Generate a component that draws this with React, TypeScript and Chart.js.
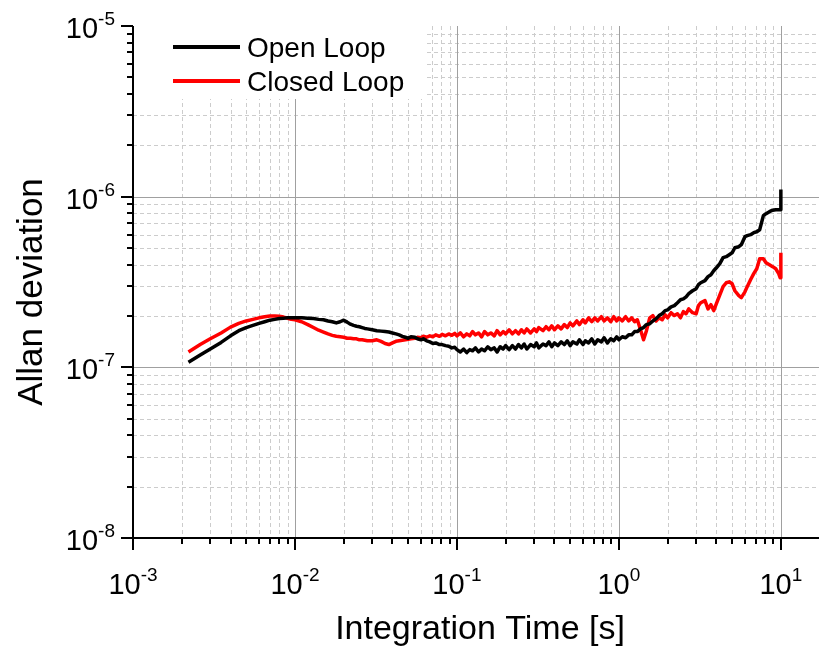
import React, { useEffect, useRef } from 'react';
import { Chart, registerables } from 'chart.js';

Chart.register(...registerables);

// Integration time tau [s]
const tau = [
  0.0022, 0.0026, 0.003, 0.0035, 0.004, 0.0045, 0.005, 0.0055, 0.006, 0.0065, 0.007, 0.0075, 0.008, 0.0085, 0.009, 0.0095,
  0.01, 0.011, 0.012, 0.013, 0.014, 0.015, 0.016, 0.017, 0.018, 0.019, 0.02, 0.021, 0.022, 0.023, 0.024, 0.025, 0.026, 0.027, 0.028,
  0.03, 0.032, 0.034, 0.036, 0.038, 0.04, 0.042, 0.044, 0.046, 0.048,
  0.05, 0.052, 0.055, 0.057, 0.06, 0.062, 0.065, 0.068, 0.071, 0.074, 0.078, 0.081, 0.085, 0.089, 0.093, 0.097,
  0.1, 0.105, 0.11, 0.115, 0.12, 0.125, 0.13, 0.136, 0.142, 0.148, 0.155, 0.162, 0.17, 0.177, 0.185, 0.193,
  0.2, 0.21, 0.22, 0.23, 0.24, 0.25, 0.26, 0.27, 0.285, 0.3, 0.31, 0.32, 0.34, 0.355, 0.37, 0.385,
  0.4, 0.42, 0.44, 0.46, 0.48, 0.5, 0.52, 0.55, 0.57, 0.6, 0.62, 0.65, 0.68, 0.71, 0.74, 0.78, 0.81, 0.85, 0.89, 0.93, 0.97,
  1, 1.05, 1.1, 1.15, 1.2, 1.25, 1.3, 1.36, 1.42, 1.48, 1.55, 1.62, 1.7, 1.77, 1.85, 1.93,
  2, 2.1, 2.2, 2.3, 2.4, 2.5, 2.6, 2.7, 2.85, 3, 3.1, 3.2, 3.4, 3.55, 3.7, 3.85,
  4, 4.2, 4.4, 4.6, 4.8, 5, 5.2, 5.5, 5.7, 6, 6.2, 6.5, 6.8, 7.1, 7.4, 7.8, 8.1, 8.5, 8.9, 9.3, 9.7, 9.9, 10,
];

// Allan deviation, open loop
const openLoop = [
  1.07e-7, 1.18e-7, 1.28e-7, 1.40e-7, 1.53e-7, 1.64e-7, 1.71e-7, 1.76e-7, 1.81e-7, 1.85e-7, 1.89e-7, 1.91e-7, 1.93e-7, 1.94e-7, 1.95e-7, 1.95e-7,
  1.95e-7, 1.95e-7, 1.94e-7, 1.93e-7, 1.91e-7, 1.90e-7, 1.87e-7, 1.85e-7, 1.82e-7, 1.85e-7, 1.89e-7, 1.84e-7, 1.79e-7, 1.76e-7, 1.74e-7, 1.73e-7, 1.71e-7, 1.69e-7, 1.68e-7,
  1.66e-7, 1.64e-7, 1.63e-7, 1.62e-7, 1.61e-7, 1.59e-7, 1.57e-7, 1.55e-7, 1.52e-7, 1.50e-7,
  1.48e-7, 1.51e-7, 1.50e-7, 1.47e-7, 1.45e-7, 1.47e-7, 1.43e-7, 1.41e-7, 1.38e-7, 1.39e-7, 1.36e-7, 1.36e-7, 1.34e-7, 1.33e-7, 1.30e-7, 1.31e-7,
  1.27e-7, 1.23e-7, 1.28e-7, 1.22e-7, 1.27e-7, 1.25e-7, 1.30e-7, 1.23e-7, 1.28e-7, 1.25e-7, 1.32e-7, 1.27e-7, 1.30e-7, 1.23e-7, 1.32e-7, 1.28e-7,
  1.34e-7, 1.27e-7, 1.34e-7, 1.28e-7, 1.36e-7, 1.30e-7, 1.37e-7, 1.28e-7, 1.36e-7, 1.32e-7, 1.39e-7, 1.30e-7, 1.37e-7, 1.34e-7, 1.41e-7, 1.32e-7,
  1.39e-7, 1.34e-7, 1.41e-7, 1.36e-7, 1.43e-7, 1.34e-7, 1.41e-7, 1.37e-7, 1.45e-7, 1.36e-7, 1.43e-7, 1.39e-7, 1.47e-7, 1.37e-7, 1.45e-7, 1.41e-7, 1.49e-7, 1.39e-7, 1.47e-7, 1.43e-7, 1.51e-7,
  1.45e-7, 1.51e-7, 1.49e-7, 1.55e-7, 1.55e-7, 1.62e-7, 1.62e-7, 1.68e-7, 1.71e-7, 1.78e-7, 1.80e-7, 1.87e-7, 1.93e-7, 2.01e-7, 2.06e-7, 2.15e-7,
  2.17e-7, 2.26e-7, 2.30e-7, 2.39e-7, 2.49e-7, 2.52e-7, 2.59e-7, 2.70e-7, 2.81e-7, 2.89e-7, 3.05e-7, 3.13e-7, 3.22e-7, 3.40e-7, 3.49e-7, 3.68e-7,
  3.83e-7, 4.05e-7, 4.39e-7, 4.45e-7, 4.57e-7, 4.69e-7, 5.02e-7, 5.09e-7, 5.23e-7, 5.83e-7, 5.91e-7, 5.99e-7, 6.15e-7, 6.23e-7, 6.40e-7, 7.74e-7, 7.95e-7, 8.17e-7, 8.33e-7, 8.39e-7, 8.39e-7, 8.39e-7, 1.10e-6,
];

// Allan deviation, closed loop
const closedLoop = [
  1.23e-7, 1.36e-7, 1.47e-7, 1.59e-7, 1.72e-7, 1.81e-7, 1.87e-7, 1.91e-7, 1.95e-7, 1.98e-7, 2.00e-7, 2.00e-7, 1.99e-7, 1.97e-7, 1.94e-7, 1.91e-7,
  1.90e-7, 1.85e-7, 1.78e-7, 1.71e-7, 1.65e-7, 1.61e-7, 1.57e-7, 1.54e-7, 1.52e-7, 1.51e-7, 1.50e-7, 1.48e-7, 1.48e-7, 1.47e-7, 1.47e-7, 1.45e-7, 1.45e-7, 1.44e-7, 1.43e-7,
  1.43e-7, 1.45e-7, 1.42e-7, 1.38e-7, 1.36e-7, 1.39e-7, 1.42e-7, 1.43e-7, 1.44e-7, 1.45e-7,
  1.46e-7, 1.47e-7, 1.48e-7, 1.50e-7, 1.49e-7, 1.52e-7, 1.50e-7, 1.53e-7, 1.51e-7, 1.55e-7, 1.52e-7, 1.56e-7, 1.53e-7, 1.57e-7, 1.54e-7, 1.58e-7,
  1.53e-7, 1.59e-7, 1.51e-7, 1.57e-7, 1.53e-7, 1.62e-7, 1.55e-7, 1.59e-7, 1.51e-7, 1.62e-7, 1.55e-7, 1.59e-7, 1.53e-7, 1.64e-7, 1.55e-7, 1.62e-7,
  1.57e-7, 1.66e-7, 1.57e-7, 1.64e-7, 1.57e-7, 1.66e-7, 1.59e-7, 1.68e-7, 1.59e-7, 1.68e-7, 1.62e-7, 1.71e-7, 1.64e-7, 1.73e-7, 1.66e-7, 1.75e-7,
  1.66e-7, 1.75e-7, 1.68e-7, 1.78e-7, 1.71e-7, 1.82e-7, 1.75e-7, 1.87e-7, 1.78e-7, 1.90e-7, 1.82e-7, 1.95e-7, 1.85e-7, 1.95e-7, 1.87e-7, 1.98e-7, 1.87e-7, 1.95e-7, 1.85e-7, 1.98e-7, 1.87e-7,
  1.95e-7, 1.87e-7, 1.98e-7, 1.87e-7, 1.95e-7, 1.85e-7, 1.90e-7, 1.66e-7, 1.45e-7, 1.64e-7, 1.95e-7, 2.01e-7, 1.87e-7, 1.95e-7, 1.90e-7, 2.03e-7,
  1.95e-7, 2.09e-7, 2.01e-7, 2.06e-7, 1.95e-7, 2.12e-7, 2.06e-7, 2.20e-7, 2.09e-7, 2.06e-7, 2.30e-7, 2.39e-7, 2.46e-7, 2.20e-7, 2.33e-7, 2.15e-7,
  2.36e-7, 2.66e-7, 2.97e-7, 3.13e-7, 3.17e-7, 3.09e-7, 2.81e-7, 2.63e-7, 2.56e-7, 2.77e-7, 2.97e-7, 3.26e-7, 3.54e-7, 3.78e-7, 4.33e-7, 4.33e-7, 4.10e-7, 3.99e-7, 3.89e-7, 3.78e-7, 3.54e-7, 3.35e-7, 4.69e-7,
];

const seriesLabels = ['Open Loop', 'Closed Loop'];
const seriesColors = ['#000000', '#ff0000'];
const xTickExponents = [-3, -2, -1, 0, 1];
const yTickExponents = [-8, -7, -6, -5];
const xTitle = 'Integration Time [s]';
const yTitle = 'Allan deviation';
const X_MIN = 1e-3;
const X_MAX = 17.2;
const Y_MIN = 1e-8;
const Y_MAX = 1e-5;

const FONT = '"Liberation Sans", Arial, sans-serif';

function drawPower(ctx: CanvasRenderingContext2D, exp: number, x: number, baseline: number, align: 'center' | 'right') {
  const base = '10';
  const sup = String(exp);
  ctx.font = `29px ${FONT}`;
  const wb = ctx.measureText(base).width;
  ctx.font = `19px ${FONT}`;
  const ws = ctx.measureText(sup).width;
  const total = wb + ws;
  const start = align === 'center' ? x - total / 2 : x - total;
  ctx.textAlign = 'left';
  ctx.textBaseline = 'alphabetic';
  ctx.fillStyle = '#000';
  ctx.font = `29px ${FONT}`;
  ctx.fillText(base, start, baseline);
  ctx.font = `19px ${FONT}`;
  ctx.fillText(sup, start + wb, baseline - 13);
}

const originPlugin = {
  id: 'originStyle',
  beforeDatasetsDraw(chart: any) {
    const { ctx, chartArea: a, scales } = chart;
    const x = scales.x;
    const y = scales.y;
    ctx.save();
    ctx.lineWidth = 1;
    // minor grid
    ctx.strokeStyle = '#cccccc';
    ctx.setLineDash([4, 3]);
    ctx.beginPath();
    for (let n = -3; n <= 1; n++) {
      for (let k = 2; k <= 9; k++) {
        const v = k * Math.pow(10, n);
        if (v > X_MAX) continue;
        const px = Math.round(x.getPixelForValue(v)) + 0.5;
        ctx.moveTo(px, a.top);
        ctx.lineTo(px, a.bottom);
      }
    }
    for (let n = -8; n <= -6; n++) {
      for (let k = 2; k <= 9; k++) {
        const v = k * Math.pow(10, n);
        const py = Math.round(y.getPixelForValue(v)) + 0.5;
        ctx.moveTo(a.left, py);
        ctx.lineTo(a.right, py);
      }
    }
    ctx.stroke();
    // major grid
    ctx.setLineDash([]);
    ctx.strokeStyle = '#a0a0a0';
    ctx.beginPath();
    for (const n of [-2, -1, 0, 1]) {
      const px = Math.round(x.getPixelForValue(Math.pow(10, n))) + 0.5;
      ctx.moveTo(px, a.top);
      ctx.lineTo(px, a.bottom);
    }
    for (const n of [-7, -6]) {
      const py = Math.round(y.getPixelForValue(Math.pow(10, n))) + 0.5;
      ctx.moveTo(a.left, py);
      ctx.lineTo(a.right, py);
    }
    ctx.stroke();
    // legend background
    ctx.fillStyle = '#ffffff';
    ctx.fillRect(a.left + 1, a.top - 1, 293, 74);
    ctx.restore();
  },
  afterDraw(chart: any) {
    const { ctx, chartArea: a, scales } = chart;
    const x = scales.x;
    const y = scales.y;
    ctx.save();
    ctx.setLineDash([]);
    ctx.strokeStyle = '#000';
    ctx.lineWidth = 2;
    ctx.beginPath();
    ctx.moveTo(a.left, a.top);
    ctx.lineTo(a.left, a.bottom + 1);
    ctx.moveTo(a.left - 1, a.bottom);
    ctx.lineTo(a.right, a.bottom);
    // x ticks
    for (let n = -3; n <= 1; n++) {
      for (let k = 1; k <= 9; k++) {
        const v = k * Math.pow(10, n);
        if (v > X_MAX) continue;
        const px = Math.round(x.getPixelForValue(v));
        const len = k === 1 ? 12 : 6;
        ctx.moveTo(px, a.bottom);
        ctx.lineTo(px, a.bottom + len);
      }
    }
    // y ticks
    for (let n = -8; n <= -5; n++) {
      for (let k = 1; k <= 9; k++) {
        const v = k * Math.pow(10, n);
        if (v > Y_MAX * 1.0001) continue;
        const py = Math.round(y.getPixelForValue(v));
        const len = k === 1 ? 12 : 6;
        ctx.moveTo(a.left - len, py);
        ctx.lineTo(a.left, py);
      }
    }
    ctx.stroke();

    // tick labels
    for (const e of xTickExponents) {
      const px = x.getPixelForValue(Math.pow(10, e));
      drawPower(ctx, e, px, a.bottom + 56, 'center');
    }
    for (const e of yTickExponents) {
      const py = y.getPixelForValue(Math.pow(10, e));
      drawPower(ctx, e, a.left - 18, py + 12, 'right');
    }

    // axis titles
    ctx.fillStyle = '#000';
    ctx.font = `34px ${FONT}`;
    ctx.textAlign = 'center';
    ctx.textBaseline = 'alphabetic';
    ctx.fillText(xTitle, 480, a.bottom + 101);
    ctx.save();
    ctx.translate(42, 292);
    ctx.rotate(-Math.PI / 2);
    ctx.font = `35px ${FONT}`;
    ctx.fillText(yTitle, 0, 0);
    ctx.restore();

    // legend
    ctx.font = `28px ${FONT}`;
    ctx.textAlign = 'left';
    seriesLabels.forEach((lab, i) => {
      const ly = a.top + 21 + i * 34;
      ctx.strokeStyle = seriesColors[i];
      ctx.lineWidth = 4;
      ctx.beginPath();
      ctx.moveTo(a.left + 40, ly);
      ctx.lineTo(a.left + 107, ly);
      ctx.stroke();
      ctx.fillStyle = '#000';
      ctx.fillText(lab, a.left + 114, ly + 10);
    });
    ctx.restore();
  },
};

export default function App() {
  const ref = useRef<HTMLCanvasElement>(null);
  useEffect(() => {
    if (!ref.current) return;
    const chart = new Chart(ref.current, {
      type: 'line',
      data: {
        datasets: [
          {
            label: seriesLabels[0],
            data: tau.map((t, i) => ({ x: t, y: openLoop[i] })),
            borderColor: seriesColors[0],
            borderWidth: 3.5,
            borderJoinStyle: 'round',
            pointRadius: 0,
            fill: false,
            tension: 0,
          },
          {
            label: seriesLabels[1],
            data: tau.map((t, i) => ({ x: t, y: closedLoop[i] })),
            borderColor: seriesColors[1],
            borderWidth: 3.5,
            borderJoinStyle: 'round',
            pointRadius: 0,
            fill: false,
            tension: 0,
          },
        ],
      },
      options: {
        responsive: false,
        animation: false,
        devicePixelRatio: 1,
        events: [],
        layout: { padding: { left: 133, right: 0, top: 26, bottom: 108 } },
        plugins: { legend: { display: false }, tooltip: { enabled: false } },
        scales: {
          x: { type: 'logarithmic', min: X_MIN, max: X_MAX, display: false },
          y: { type: 'logarithmic', min: Y_MIN, max: Y_MAX, display: false },
        },
      },
      plugins: [originPlugin],
    } as any);
    return () => chart.destroy();
  }, []);
  return (
    <div style={{ position: 'absolute', left: 0, top: 0, width: 819, height: 646, background: '#fff' }}>
      <canvas ref={ref} width={819} height={646} style={{ display: 'block' }} />
    </div>
  );
}
